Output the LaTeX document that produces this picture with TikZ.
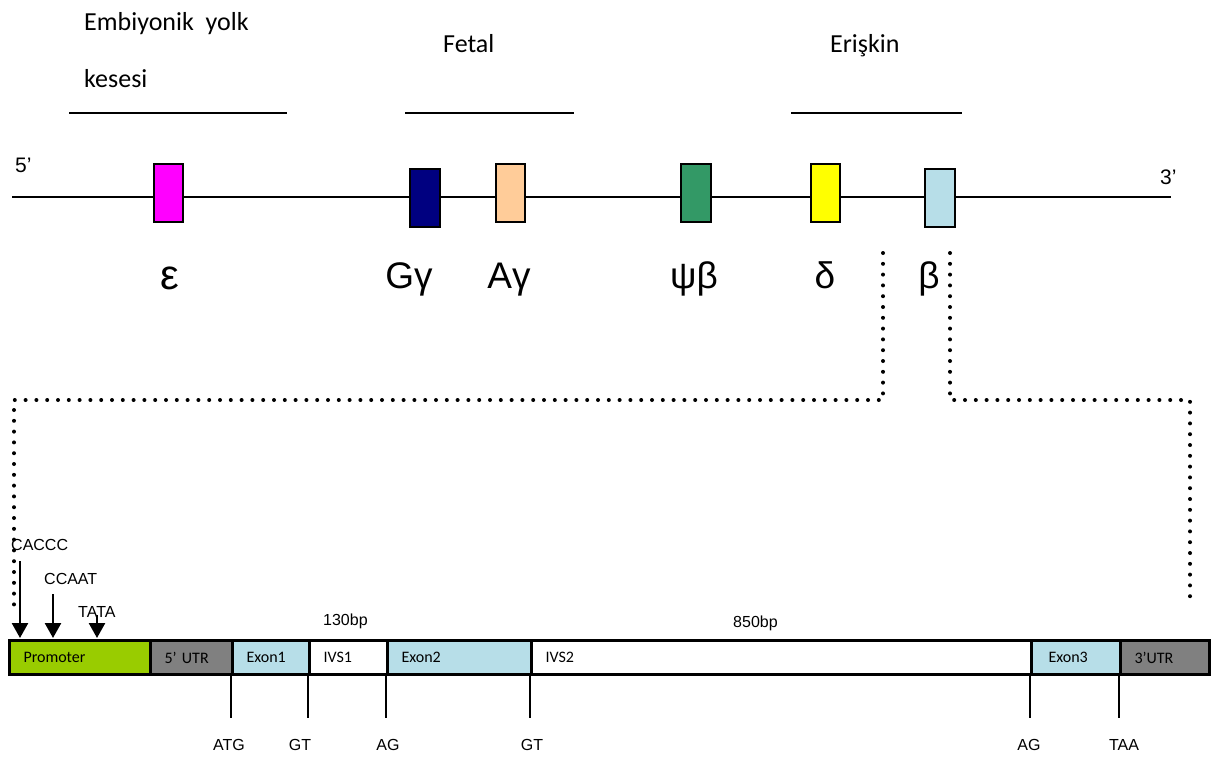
\documentclass[tikz,border=0pt]{standalone}
\usepackage{fontspec}
\setmainfont{Carlito}
\newfontfamily\arial{Liberation Sans}
\usetikzlibrary{arrows.meta}
\definecolor{cmag}{HTML}{FF00FF}
\definecolor{cnavy}{HTML}{000080}
\definecolor{cpeach}{HTML}{FFCC99}
\definecolor{cgreen}{HTML}{339966}
\definecolor{cyel}{HTML}{FFFF00}
\definecolor{cblue}{HTML}{B7DEE8}
\definecolor{cprom}{HTML}{99CC00}
\definecolor{cgray}{HTML}{808080}
\begin{document}
\begin{tikzpicture}[x=1pt,y=-1pt,
  gene/.style={draw, line width=2pt, minimum width=29pt, minimum height=58pt, inner sep=0pt},
  greek/.style={font=\arial\fontsize{37}{40}\selectfont, anchor=base, inner sep=0pt},
  stage/.style={font=\fontsize{26}{29}\selectfont, anchor=base west, inner sep=0pt},
  stageline/.style={line width=2pt},
  endlbl/.style={font=\arial\fontsize{21}{24}\selectfont, anchor=base west, inner sep=0pt},
  dots/.style={line width=4pt, line cap=round, dash pattern=on 0pt off 10.8pt},
  seg/.style={draw, line width=3pt, minimum height=34pt, inner xsep=14pt, inner ysep=0pt,
    anchor=north west, align=left, font=\fontsize{16}{18}\selectfont},
  small/.style={font=\arial\fontsize{16}{18}\selectfont, inner sep=0pt},
  tick/.style={line width=2pt},
  arr/.style={line width=2.5pt, -{Triangle[width=16pt,length=15pt]}}
]
\useasboundingbox (0,0) rectangle (1214,756);

% stage labels
\node[stage] (emb) at (84,30) {Embiyonik\ \ yolk};
\node[stage] (kes) at (84,87) {kesesi};
\node[stage] (fet) at (443,52) {Fetal};
\node[stage] (eri) at (830,52) {Erişkin};
\coordinate (s1a) at (69,113); \coordinate (s1b) at (287,113);
\coordinate (s2a) at (405,113); \coordinate (s2b) at (574,113);
\coordinate (s3a) at (791,113); \coordinate (s3b) at (962,113);
\draw[stageline] (s1a) -- (s1b);
\draw[stageline] (s2a) -- (s2b);
\draw[stageline] (s3a) -- (s3b);

% main line
\coordinate (l5) at (12,197);
\coordinate (l3) at (1171,197);
\draw[line width=2pt] (l5) -- (l3);
\node[endlbl] (five) at (15,172) {5’};
\node[endlbl] (three) at (1160,184) {3’};

% genes
\node[gene, fill=cmag] (eps) at (168.5,193) {};
\node[gene, fill=cnavy, minimum width=30pt] (gg) at (425,198) {};
\node[gene, fill=cpeach] (ag) at (510.5,193) {};
\node[gene, fill=cgreen, minimum width=30pt] (psi) at (696,193) {};
\node[gene, fill=cyel] (del) at (825.5,193) {};
\node[gene, fill=cblue, minimum width=30pt] (bet) at (940,198) {};

\node[greek] (epsL) at (170,289) {\fontsize{42}{44}\selectfont ε};
\node[greek] (ggL) at (409,288) {Gγ};
\node[greek] (agL) at (509,288) {Aγ};
\node[greek] (psiL) at (694,288) {ψβ};
\node[greek] (delL) at (825,288) {δ};
\node[greek] (betL) at (929,288) {β};

% dotted zoom lines
\coordinate (dl1) at (883,253); \coordinate (dl2) at (883,400);
\coordinate (dl3) at (14,400); \coordinate (dl4) at (14,607);
\coordinate (dr1) at (950,253); \coordinate (dr2) at (950,400);
\coordinate (dr3) at (1190,400); \coordinate (dr4) at (1190,606);
\draw[dots] (dl1) -- (dl2) -- (dl3) -- (dl4);
\draw[dots] (dr1) -- (dr2) -- (dr3) -- (dr4);

% gene bar
\node[seg, fill=cprom, text width=113pt] (prom) at (8,639) {Promoter};
\node[seg, fill=cgray, text width=54pt] (utr5) at (149,639) {5’ UTR};
\node[seg, fill=cblue, text width=49pt] (ex1) at (231,639) {Exon1};
\node[seg, fill=white, text width=50pt] (ivs1) at (308,639) {IVS1};
\node[seg, fill=cblue, text width=116pt] (ex2) at (386,639) {Exon2};
\node[seg, fill=white, text width=472pt] (ivs2) at (530,639) {IVS2};
\node[seg, fill=cblue, text width=61pt] (ex3) at (1030,639) {\hspace{3pt}Exon3};
\node[seg, fill=cgray, text width=61pt] (utr3) at (1119,639) {3’UTR};

% promoter elements
\node[small, anchor=west] (caccc) at (11,545) {CACCC};
\node[small, anchor=west] (ccaat) at (44,579) {CCAAT};
\node[small, anchor=west] (tata) at (78,612) {TATA};
\coordinate (a1s) at (20,561); \coordinate (a1e) at (20,638);
\coordinate (a2s) at (53,594); \coordinate (a2e) at (53,638);
\coordinate (a3s) at (97,615); \coordinate (a3e) at (97,638);
\draw[arr] (a1s) -- (a1e);
\draw[arr] (a2s) -- (a2e);
\draw[arr] (a3s) -- (a3e);

\node[small, anchor=west] (bp130) at (323,621) {130bp};
\node[small, anchor=west] (bp850) at (733,623) {850bp};

% ticks and site labels
\coordinate (t1) at (231,718); \coordinate (t2) at (308,718);
\coordinate (t3) at (386,718); \coordinate (t4) at (530,718);
\coordinate (t5) at (1030,718); \coordinate (t6) at (1119,718);
\draw[tick] (ex1.south west) -- (t1);
\draw[tick] (ivs1.south west) -- (t2);
\draw[tick] (ex2.south west) -- (t3);
\draw[tick] (ivs2.south west) -- (t4);
\draw[tick] (ex3.south west) -- (t5);
\draw[tick] (utr3.south west) -- (t6);
\node[small, anchor=base] (atg) at (229,750) {ATG};
\node[small, anchor=base] (gt1) at (300,750) {GT};
\node[small, anchor=base] (ag1) at (388,750) {AG};
\node[small, anchor=base] (gt2) at (532,750) {GT};
\node[small, anchor=base] (ag2) at (1029,750) {AG};
\node[small, anchor=base] (taa) at (1124,750) {TAA};
\end{tikzpicture}
\end{document}
